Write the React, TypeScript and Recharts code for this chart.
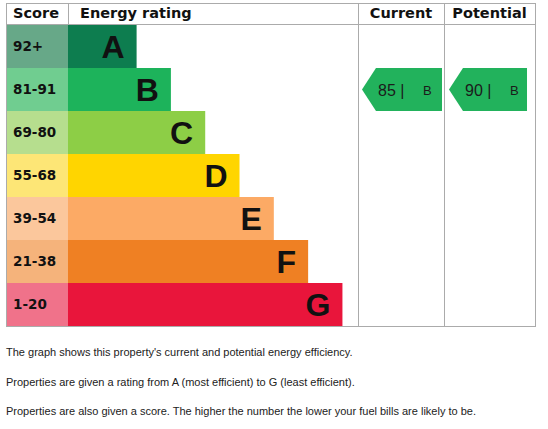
import React from 'react';
import { BarChart, Bar, XAxis, YAxis, Cell, LabelList, ReferenceArea } from 'recharts';

// energy bands, top (most efficient) to bottom
const bands = ['A', 'B', 'C', 'D', 'E', 'F', 'G'];
const scoreRanges = ['92+', '81-91', '69-80', '55-68', '39-54', '21-38', '1-20'];
const scoreFloors = [92, 81, 69, 55, 39, 21, 1];
const barLengths = [2, 3, 4, 5, 6, 7, 8];
const barColors = ['#0d7d4f', '#1db35b', '#8dce46', '#ffd500', '#fcaa65', '#ef8023', '#e9153b'];
const scoreColors = ['#67a888', '#70cd90', '#b6de8e', '#fde676', '#fbc79c', '#f5b37b', '#f0728a'];

const currentScore = 85;
const potentialScore = 90;

const notes = [
  "The graph shows this property's current and potential energy efficiency.",
  'Properties are given a rating from A (most efficient) to G (least efficient).',
  'Properties are also given a score. The higher the number the lower your fuel bills are likely to be.',
];

// layout (x in bar units)
const MAX_X = 15.42;
const SCORE_COL = 1.807;
const CURRENT_X = [10.377, 12.709];
const POTENTIAL_X = [12.913, 15.187];
const GRID = '#ababab';
const SANS = 'Arial, "Liberation Sans", sans-serif';
const VERDANA = '"DejaVu Sans", Verdana, sans-serif';

const rows = bands.map((band, i) => ({
  band,
  range: scoreRanges[i],
  scoreCol: SCORE_COL,
  length: barLengths[i],
}));

const bandFor = (score: number) => bands[scoreFloors.findIndex((f) => score >= f)];

function RatingArrow(props: any) {
  const { x, y, width, height, score } = props;
  const tip = 14;
  const cy = y + height / 2;
  return (
    <g>
      <polygon
        points={`${x},${cy} ${x + tip},${y} ${x + width},${y} ${x + width},${y + height} ${x + tip},${y + height}`}
        fill="#22b25c"
      />
      <text x={x + 16} y={cy + 6} fontFamily={SANS} fontSize={16} fill="#1b1b1b">
        {score} |
      </text>
      <text x={x + 61} y={cy + 5} fontFamily={SANS} fontSize={13} fill="#1b1b1b">
        {bandFor(score)}
      </text>
    </g>
  );
}

const line = (left: number, top: number, w: number, h: number): React.CSSProperties => ({
  position: 'absolute', left, top, width: w, height: h, background: GRID,
});

const headText: React.CSSProperties = {
  position: 'absolute', top: 3, height: 21, lineHeight: '21px',
  fontFamily: VERDANA, fontWeight: 'bold', fontSize: 14.5, color: '#111',
};

export default function App() {
  return (
    <div style={{ position: 'absolute', left: 0, top: 0, width: 548, height: 429, background: '#fff' }}>
      <div style={{ position: 'absolute', left: 0, top: 0 }}>
        <BarChart
          layout="vertical"
          width={548}
          height={326}
          data={rows}
          margin={{ top: 25, right: 13, bottom: 0, left: 6 }}
          barCategoryGap={0}
        >
          <XAxis type="number" domain={[0, MAX_X]} hide />
          <YAxis type="category" dataKey="band" hide />
          <Bar dataKey="scoreCol" stackId="s" isAnimationActive={false}>
            {rows.map((r, i) => (
              <Cell key={r.band} fill={scoreColors[i]} />
            ))}
            <LabelList
              dataKey="range"
              position="insideLeft"
              offset={7}
              fill="#111"
              fontSize={13.5}
              fontWeight="bold"
              fontFamily={VERDANA}
            />
          </Bar>
          <Bar dataKey="length" stackId="s" isAnimationActive={false}>
            {rows.map((r, i) => (
              <Cell key={r.band} fill={barColors[i]} />
            ))}
            <LabelList
              dataKey="band"
              position="insideRight"
              offset={12}
              fill="#111"
              fontSize={32}
              fontWeight="bold"
              fontFamily={SANS}
            />
          </Bar>
          <ReferenceArea
            x1={CURRENT_X[0]}
            x2={CURRENT_X[1]}
            y1={bandFor(currentScore)}
            y2={bandFor(currentScore)}
            ifOverflow="visible"
            shape={(p: any) => <RatingArrow {...p} score={currentScore} />}
          />
          <ReferenceArea
            x1={POTENTIAL_X[0]}
            x2={POTENTIAL_X[1]}
            y1={bandFor(potentialScore)}
            y2={bandFor(potentialScore)}
            ifOverflow="visible"
            shape={(p: any) => <RatingArrow {...p} score={potentialScore} />}
          />
        </BarChart>
      </div>

      {/* table grid */}
      <div style={{ position: 'absolute', left: 6, top: 3, width: 530, height: 324, boxSizing: 'border-box', border: `1px solid ${GRID}` }} />
      <div style={line(6, 24, 530, 1)} />
      <div style={line(68, 3, 1, 21)} />
      <div style={line(358, 3, 1, 324)} />
      <div style={line(444, 3, 1, 324)} />

      <div style={{ ...headText, left: 13 }}>Score</div>
      <div style={{ ...headText, left: 80 }}>Energy rating</div>
      <div style={{ ...headText, left: 358, width: 86, textAlign: 'center' }}>Current</div>
      <div style={{ ...headText, left: 444, width: 91, textAlign: 'center' }}>Potential</div>

      {notes.map((t, i) => (
        <div
          key={i}
          style={{
            position: 'absolute', left: 6, top: 346 + i * 29.5, fontFamily: SANS,
            fontSize: 11, lineHeight: '13px', color: '#222', whiteSpace: 'nowrap',
          }}
        >
          {t}
        </div>
      ))}
    </div>
  );
}
